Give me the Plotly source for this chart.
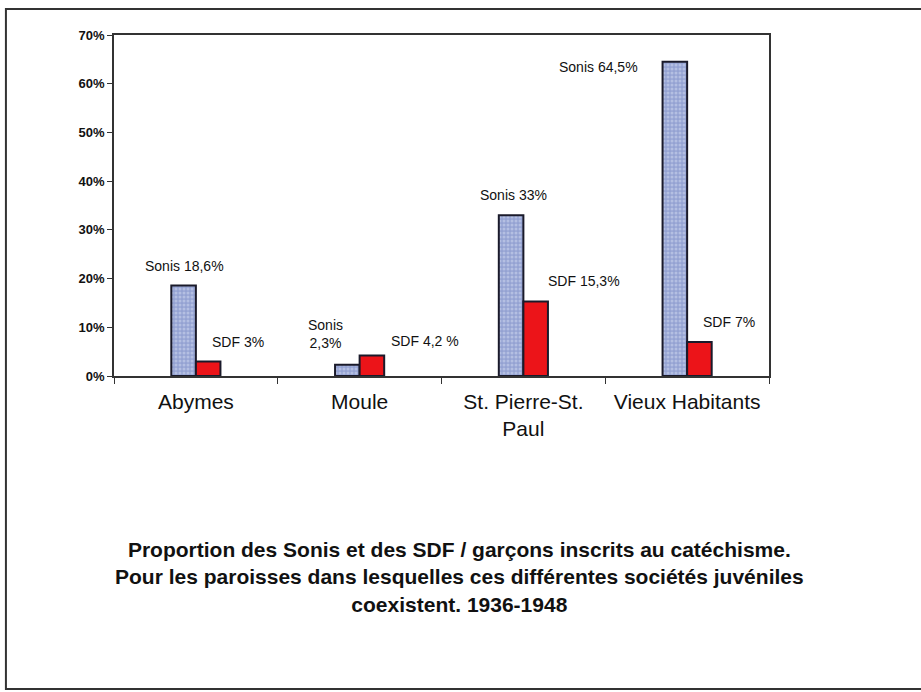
import plotly.graph_objects as go

# ── Data ────────────────────────────────────────────────────────────
PAROISSES = ["Abymes", "Moule", "St. Pierre-St.<br>Paul", "Vieux Habitants"]
SONIS = [18.6, 2.3, 33.0, 64.5]
SDF = [3.0, 4.2, 15.3, 7.0]
SONIS_LABELS = ["Sonis 18,6%", "Sonis<br>2,3%", "Sonis 33%", "Sonis 64,5%"]
SDF_LABELS = ["SDF 3%", "SDF 4,2 %", "SDF 15,3%", "SDF 7%"]
Y_TICKS = [0, 10, 20, 30, 40, 50, 60, 70]

TITLE = ("Proportion des Sonis et des SDF / garçons inscrits au catéchisme.<br>"
         "Pour les paroisses dans lesquelles ces différentes sociétés juvéniles<br>"
         "coexistent. 1936-1948")

# label offsets (pixels) from the group centre / bar top
SONIS_SHIFT = [(-11, 19), (-34, 31), (-10, 20), (-89, -5)]
SDF_SHIFT = [(42, 19), (65, 15), (61, 20), (42, 20)]

FONT = "Liberation Sans, Arial, sans-serif"
EDGE = "#1a1a2a"

fig = go.Figure()
fig.add_bar(
    x=PAROISSES, y=SONIS, name="Sonis",
    marker=dict(
        color="#A3AFDA",
        line=dict(color=EDGE, width=2),
        pattern=dict(shape=".", fgcolor="#D3DBF2", bgcolor="#94A2D2",
                     size=4, solidity=0.45),
    ),
)
fig.add_bar(
    x=PAROISSES, y=SDF, name="SDF",
    marker=dict(color="#EC1419", line=dict(color=EDGE, width=2)),
)

annotations = []
for cat, val, txt, (dx, dy) in zip(PAROISSES, SONIS, SONIS_LABELS, SONIS_SHIFT):
    annotations.append(dict(x=cat, y=val, text=txt, xshift=dx, yshift=dy,
                            showarrow=False, font=dict(size=14, color="#111")))
for cat, val, txt, (dx, dy) in zip(PAROISSES, SDF, SDF_LABELS, SDF_SHIFT):
    annotations.append(dict(x=cat, y=val, text=txt, xshift=dx, yshift=dy,
                            showarrow=False, font=dict(size=14, color="#111")))

annotations.append(dict(
    x=0.528, y=-0.589, xref="paper", yref="paper", text=TITLE,
    showarrow=False, xanchor="center", yanchor="middle",
    font=dict(size=21, color="#111", weight="bold"),
))

fig.update_layout(
    width=921, height=692,
    margin=dict(l=114, r=152, t=35, b=316),
    paper_bgcolor="white", plot_bgcolor="white",
    font=dict(family=FONT, color="#111"),
    barmode="group", bargap=0.7, bargroupgap=0,
    showlegend=False,
    annotations=annotations,
    shapes=[dict(type="rect", xref="paper", yref="paper",
                 x0=-0.165, x1=1.25, y0=-0.918, y1=1.076,
                 line=dict(color="#333", width=2))],
)
fig.update_xaxes(
    showline=True, linecolor="#333", linewidth=1.5, mirror=True,
    ticks="outside", tickson="boundaries", ticklen=6, tickcolor="#333",
    tickfont=dict(size=21, color="#111"), ticklabelstandoff=6,
    showgrid=False,
)
fig.update_yaxes(
    range=[0, 70], tickvals=Y_TICKS, ticktext=[f"{v}%" for v in Y_TICKS],
    showline=True, linecolor="#333", linewidth=1.5, mirror=True,
    ticks="outside", ticklen=5, tickcolor="#333",
    tickfont=dict(size=13, color="#111", weight="bold"),
    showgrid=False, zeroline=False,
)

# drop the default page margin so the figure sits at the window's corner
fig.write_html("out.html", config={"displayModeBar": False},
               post_script="document.body.style.margin='0px';")
